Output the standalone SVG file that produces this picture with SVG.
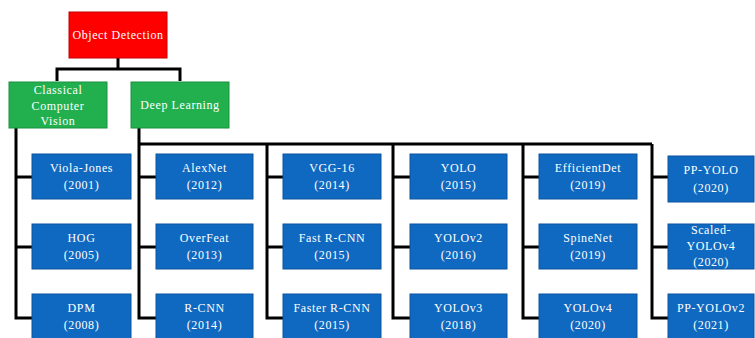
<svg xmlns="http://www.w3.org/2000/svg" width="755" height="338" viewBox="0 0 755 338">
<style>
.t{font-family:"Liberation Serif","Times New Roman",serif;font-size:12px;letter-spacing:0.6px;fill:#fff;text-anchor:middle}
.r{fill:#ff0000;stroke:#c00000;stroke-width:1}
.g{fill:#22b04f;stroke:#1a9040;stroke-width:1}
.b{fill:#1069c0;stroke:#0c559e;stroke-width:1}
.c{fill:none;stroke:#000;stroke-width:3;stroke-linejoin:miter}
</style>
<rect width="755" height="338" fill="#fff"/>
<g id="connectors">
<path class="c" d="M118 58V69M57 81V69H180V81"/>
<path class="c" d="M16 128V318H32M16 177H32M16 247H32"/>
<path class="c" d="M139 128V318H156M139 177H156M139 247H156M139 144H652"/>
<path class="c" d="M267 144V318H283M267 177H283M267 247H283"/>
<path class="c" d="M393 144V318H410M393 177H410M393 247H410"/>
<path class="c" d="M523 144V318H539M523 177H539M523 247H539"/>
<path class="c" d="M652 144V318H668M652 177H668M652 247H668"/>
</g>
<g id="object-detection"><rect class="r" x="69" y="12" width="98" height="46"/><text class="t" x="118" y="39">Object Detection</text></g>
<g id="classical"><rect class="g" x="9" y="82" width="98" height="46"/><text class="t" x="58" y="94">Classical</text><text class="t" x="58" y="110">Computer</text><text class="t" x="58" y="125">Vision</text></g>
<g id="deep-learning"><rect class="g" x="131" y="82" width="98" height="46"/><text class="t" x="180" y="109">Deep Learning</text></g>
<g id="viola-jones"><rect class="b" x="32" y="154" width="99" height="45"/><text class="t" x="81.5" y="172">Viola-Jones</text><text class="t" x="81.5" y="189">(2001)</text></g>
<g id="hog"><rect class="b" x="32" y="224" width="99" height="45"/><text class="t" x="81.5" y="242">HOG</text><text class="t" x="81.5" y="259">(2005)</text></g>
<g id="dpm"><rect class="b" x="32" y="294" width="99" height="45"/><text class="t" x="81.5" y="312">DPM</text><text class="t" x="81.5" y="329">(2008)</text></g>
<g id="alexnet"><rect class="b" x="156" y="154" width="97" height="45"/><text class="t" x="204.5" y="172">AlexNet</text><text class="t" x="204.5" y="189">(2012)</text></g>
<g id="overfeat"><rect class="b" x="156" y="224" width="97" height="45"/><text class="t" x="204.5" y="242">OverFeat</text><text class="t" x="204.5" y="259">(2013)</text></g>
<g id="rcnn"><rect class="b" x="156" y="294" width="97" height="45"/><text class="t" x="204.5" y="312">R-CNN</text><text class="t" x="204.5" y="329">(2014)</text></g>
<g id="vgg16"><rect class="b" x="283" y="154" width="98" height="45"/><text class="t" x="332" y="172">VGG-16</text><text class="t" x="332" y="189">(2014)</text></g>
<g id="fast-rcnn"><rect class="b" x="283" y="224" width="98" height="45"/><text class="t" x="332" y="242">Fast R-CNN</text><text class="t" x="332" y="259">(2015)</text></g>
<g id="faster-rcnn"><rect class="b" x="283" y="294" width="98" height="45"/><text class="t" x="332" y="312">Faster R-CNN</text><text class="t" x="332" y="329">(2015)</text></g>
<g id="yolo"><rect class="b" x="410" y="154" width="97" height="45"/><text class="t" x="458.5" y="172">YOLO</text><text class="t" x="458.5" y="189">(2015)</text></g>
<g id="yolov2"><rect class="b" x="410" y="224" width="97" height="45"/><text class="t" x="458.5" y="242">YOLOv2</text><text class="t" x="458.5" y="259">(2016)</text></g>
<g id="yolov3"><rect class="b" x="410" y="294" width="97" height="45"/><text class="t" x="458.5" y="312">YOLOv3</text><text class="t" x="458.5" y="329">(2018)</text></g>
<g id="efficientdet"><rect class="b" x="539" y="154" width="98" height="45"/><text class="t" x="588" y="172">EfficientDet</text><text class="t" x="588" y="189">(2019)</text></g>
<g id="spinenet"><rect class="b" x="539" y="224" width="98" height="45"/><text class="t" x="588" y="242">SpineNet</text><text class="t" x="588" y="259">(2019)</text></g>
<g id="yolov4"><rect class="b" x="539" y="294" width="98" height="45"/><text class="t" x="588" y="312">YOLOv4</text><text class="t" x="588" y="329">(2020)</text></g>
<g id="pp-yolo"><rect class="b" x="668" y="156" width="86" height="46"/><text class="t" x="711" y="174">PP-YOLO</text><text class="t" x="711" y="192">(2020)</text></g>
<g id="scaled-yolov4"><rect class="b" x="668" y="224" width="86" height="45"/><text class="t" x="711" y="234">Scaled-</text><text class="t" x="711" y="250">YOLOv4</text><text class="t" x="711" y="266">(2020)</text></g>
<g id="pp-yolov2"><rect class="b" x="668" y="294" width="86" height="45"/><text class="t" x="711" y="312">PP-YOLOv2</text><text class="t" x="711" y="329">(2021)</text></g>
</svg>
